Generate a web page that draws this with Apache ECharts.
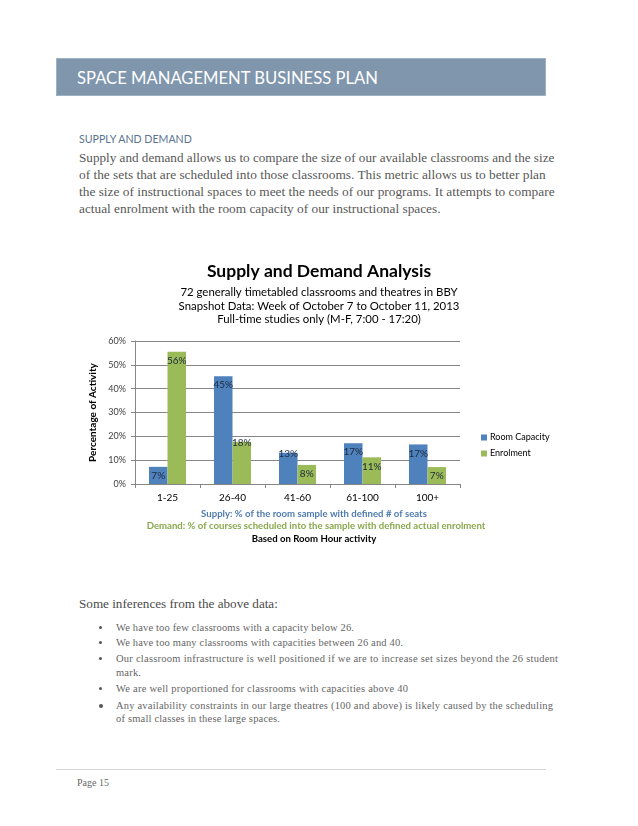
<!DOCTYPE html>
<html>
<head>
<meta charset="utf-8">
<script src="https://cdn.jsdelivr.net/npm/echarts@6/dist/echarts.min.js"></script>
<style>
  html, body { margin: 0; padding: 0; background: #fff; }
  #page { position: relative; width: 638px; height: 826px; overflow: hidden; background: #fff; }
  .ln { position: absolute; white-space: nowrap; }
  .hdr { position: absolute; left: 56px; top: 58px; width: 490px; height: 38px; background: #7f96ad; border: 1px solid #9fb2c4; box-sizing: border-box; }
  .serif { font-family: "Liberation Serif", "DejaVu Serif", serif; }
  .sans { font-family: Lato, "Open Sans", sans-serif; }
  .dot { position: absolute; width: 3px; height: 3px; border-radius: 50%; background: #555; }
  #chart { position: absolute; left: 0; top: 0; width: 638px; height: 826px; z-index: 2; }
</style>
</head>
<body>
<div id="page">
  <div class="hdr"></div>
  <div class="ln sans" data-w="301" data-y="78" style="left:77px;font-size:19px;color:#ffffff;z-index:1;">SPACE MANAGEMENT BUSINESS PLAN</div>

  <div class="ln sans" data-w="113" data-y="139" style="left:79px;font-size:11.5px;color:#5a7392;">SUPPLY AND DEMAND</div>
  <div class="ln serif" data-w="476" data-y="157.7" style="left:79px;font-size:14px;color:#585858;">Supply and demand allows us to compare the size of our available classrooms and the size</div>
  <div class="ln serif" data-w="467" data-y="175" style="left:79px;font-size:14px;color:#585858;">of the sets that are scheduled into those classrooms. This metric allows us to better plan</div>
  <div class="ln serif" data-w="476" data-y="192.3" style="left:79px;font-size:14px;color:#585858;">the size of instructional spaces to meet the needs of our programs. It attempts to compare</div>
  <div class="ln serif" data-w="362" data-y="209.3" style="left:79px;font-size:14px;color:#585858;">actual enrolment with the room capacity of our instructional spaces.</div>

  <div class="ln serif" data-w="199" data-y="604" style="left:79px;font-size:14px;color:#4a4a4a;">Some inferences from the above data:</div>

  <div class="dot" style="left:99px;top:626px;"></div>
  <div class="ln serif" data-w="238" data-y="627.7" style="left:116px;font-size:10.5px;color:#666;">We have too few classrooms with a capacity below 26.</div>
  <div class="dot" style="left:99px;top:641px;"></div>
  <div class="ln serif" data-w="287" data-y="642.7" style="left:116px;font-size:10.5px;color:#666;">We have too many classrooms with capacities between 26 and 40.</div>
  <div class="dot" style="left:99px;top:657px;"></div>
  <div class="ln serif" data-w="442" data-y="659" style="left:116px;font-size:10.5px;color:#666;">Our classroom infrastructure is well positioned if we are to increase set sizes beyond the 26 student</div>
  <div class="ln serif" data-w="25" data-y="673" style="left:116px;font-size:10.5px;color:#666;">mark.</div>
  <div class="dot" style="left:99px;top:687px;"></div>
  <div class="ln serif" data-w="292" data-y="688.7" style="left:116px;font-size:10.5px;color:#666;">We are well proportioned for classrooms with capacities above 40</div>
  <div class="dot" style="left:98.5px;top:703.5px;width:4px;height:4px;"></div>
  <div class="ln serif" data-w="437" data-y="706" style="left:116px;font-size:10.5px;color:#666;">Any availability constraints in our large theatres (100 and above) is likely caused by the scheduling</div>
  <div class="ln serif" data-w="164" data-y="719" style="left:116px;font-size:10.5px;color:#666;">of small classes in these large spaces.</div>

  <div style="position:absolute;left:56px;top:769px;width:490px;height:1px;background:#d4d4d4;"></div>
  <div class="ln serif" data-w="32" data-y="783" style="left:77px;font-size:10.5px;color:#666;">Page 15</div>

  <div id="chart"></div>
</div>
<script>
// ---- data ----
const categories = ['1-25', '26-40', '41-60', '61-100', '100+'];
const roomCapacity = [7.2, 45.2, 13.1, 17.1, 16.6];
const enrolment = [55.5, 17.7, 8.0, 11.2, 7.1];
const yTicks = [0, 10, 20, 30, 40, 50, 60];
const seriesNames = ['Room Capacity', 'Enrolment'];

const chartTitle = 'Supply and Demand Analysis';
const chartSubLines = [
  '72 generally timetabled classrooms and theatres in BBY',
  'Snapshot Data: Week of October 7 to October 11, 2013',
  'Full-time studies only (M-F, 7:00 - 17:20)'
];
const captionLines = [
  'Supply: % of the room sample with defined # of seats',
  'Demand: % of courses scheduled into the sample with defined actual enrolment',
  'Based on Room Hour activity'
];
const yAxisTitle = 'Percentage of Activity';

// ---- fit HTML text lines to measured widths ----
document.querySelectorAll('.ln').forEach(el => {
  const target = parseFloat(el.dataset.w);
  const y = parseFloat(el.dataset.y);
  const fs = parseFloat(el.style.fontSize);
  const lh = Math.round(fs * 1.3);
  el.style.lineHeight = lh + 'px';
  el.style.top = (y - lh / 2) + 'px';
  const nat = el.getBoundingClientRect().width;
  const n = el.textContent.length;
  if (nat > target) {
    el.style.fontSize = (fs * target / nat) + 'px';
  } else if (n > 1) {
    el.style.letterSpacing = ((target - nat) / (n - 1)) + 'px';
  }
});

// ---- chart ----
const FONT = 'Lato, "Open Sans", sans-serif';
const BLUE = '#4f81bd', GREEN = '#9bbb59';
const labelNudge = { 'Enrolment-1': -8, 'Room Capacity-2': -8 };

function buildData(name, vals) {
  return vals.map((v, i) => {
    const key = name + '-' + i;
    const item = { value: v };
    if (labelNudge[key] !== undefined) item.label = { offset: [0, labelNudge[key]] };
    return item;
  });
}

const titles = [
  { text: chartTitle, left: 319, textAlign: 'center', top: 262, padding: 0,
    textStyle: { fontFamily: FONT, fontSize: 17.5, fontWeight: 'bold', color: '#000' } }
];
chartSubLines.forEach((t, i) => titles.push({
  text: t, left: 319, textAlign: 'center', top: 287 + i * 13.5, padding: 0,
  textStyle: { fontFamily: FONT, fontSize: 11.4, fontWeight: 'normal', color: '#000' }
}));
const capColors = ['#4f7bb0', '#8aa84e', '#000'];
const capCenters = [314, 316, 314];
captionLines.forEach((t, i) => titles.push({
  text: t, left: capCenters[i], textAlign: 'center', top: [508.5, 520.5, 533.5][i], padding: 0,
  textStyle: { fontFamily: FONT, fontSize: 9.6, fontWeight: 'bold', color: capColors[i] }
}));

const chart = echarts.init(document.getElementById('chart'), null, { renderer: 'canvas' });
chart.setOption({
  animation: false,
  title: titles,
  grid: { left: 135, top: 341, width: 325, height: 143, containLabel: false },
  legend: {
    data: seriesNames, orient: 'vertical', left: 476, top: 428,
    itemWidth: 6, itemHeight: 6, itemGap: 7, icon: 'rect',
    textStyle: { fontFamily: FONT, fontSize: 9, color: '#000', padding: [0, 0, 0, -2] }
  },
  xAxis: {
    type: 'category', data: categories,
    axisLine: { lineStyle: { color: '#868686' } },
    axisTick: { show: true, length: 4, lineStyle: { color: '#868686' } },
    axisLabel: { fontFamily: FONT, fontSize: 10, color: '#000', margin: 9 }
  },
  yAxis: {
    type: 'value', min: yTicks[0], max: yTicks[yTicks.length - 1], interval: yTicks[1] - yTicks[0],
    name: yAxisTitle, nameLocation: 'middle', nameRotate: 90, nameGap: 29,
    nameTextStyle: { fontFamily: FONT, fontSize: 10, fontWeight: 'bold', color: '#000' },
    axisLine: { show: true, lineStyle: { color: '#868686' } },
    axisTick: { show: true, length: 4, lineStyle: { color: '#868686' } },
    axisLabel: { fontFamily: FONT, fontSize: 9, color: '#404040', margin: 9, formatter: '{value}%' },
    splitLine: { lineStyle: { color: '#868686', width: 1 } }
  },
  series: [
    { name: seriesNames[0], type: 'bar', data: buildData(seriesNames[0], roomCapacity),
      itemStyle: { color: BLUE }, barGap: '0%', barCategoryGap: '43%',
      label: { show: true, position: 'insideTop', distance: 4, fontFamily: FONT, fontSize: 10, color: '#1c2a3c',
        formatter: p => Math.round(p.value) + '%' } },
    { name: seriesNames[1], type: 'bar', data: buildData(seriesNames[1], enrolment),
      itemStyle: { color: GREEN }, barGap: '0%', barCategoryGap: '43%',
      label: { show: true, position: 'insideTop', distance: 4, fontFamily: FONT, fontSize: 10, color: '#1c2a3c',
        formatter: p => Math.round(p.value) + '%' } }
  ]
});
</script>
</body>
</html>
